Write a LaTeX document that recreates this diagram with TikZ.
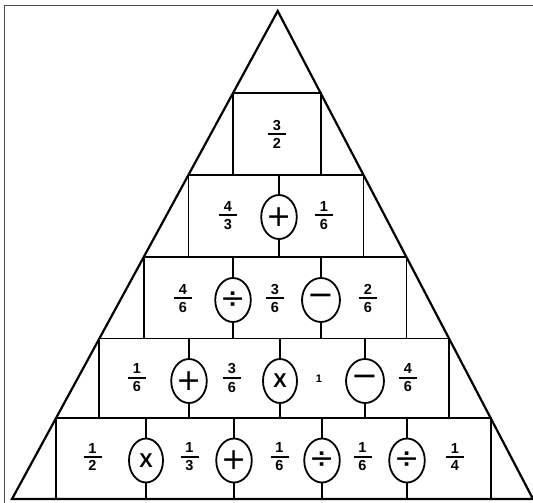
\documentclass[tikz,border=0pt]{standalone}
\usepackage{fontspec}
\newfontfamily\handfont{Liberation Sans}
\newfontfamily\symfont{DejaVu Sans}
\usetikzlibrary{calc,shapes.geometric}
\newcommand\fracfont{\handfont\bfseries\fontsize{14.5}{14.5}\selectfont}
\newcommand\fracbox[2]{\vbox{\offinterlineskip\halign{\hfil##\hfil\cr\fracfont #1\cr\noalign{\kern2.8pt}\rule{18pt}{2pt}\cr\noalign{\kern3pt}\fracfont #2\cr}}}
\newcommand\opplus{{\symfont\fontsize{30}{30}\selectfont +}}
\newcommand\opminus{{\symfont\fontsize{32}{32}\selectfont −}}
\newcommand\opdiv{{\symfont\fontsize{30}{30}\selectfont ÷}}
\newcommand\optimes{{\handfont\bfseries\fontsize{20}{20}\selectfont X}}
\begin{document}
\begin{tikzpicture}[x=1pt,y=-1pt,
  tri/.style={line width=2.2pt,line join=miter},
  boxline/.style={line width=1.8pt},
  opel/.style={draw,line width=1.8pt,fill=white,ellipse,minimum width=34pt,minimum height=44pt,inner sep=0pt},
  fr/.style={inner sep=0pt}]
\useasboundingbox (0,0) rectangle (533,503);
% frame
\draw[black!70,line width=1.3pt] (4.7,503) -- (4.7,5.7) -- (533,5.7);
% triangle
\coordinate (A) at (277.7,11);
\coordinate (BL) at (12,499);
\coordinate (BR) at (533,499);
% box corners on the triangle edges
\foreach \n/\yy in {1/93,2/175,3/257,4/338.5,5/418}{
  \coordinate (L\n) at ($(BL)!{(499-\yy)/488}!(A)$);
  \coordinate (R\n) at ($(BR)!{(499-\yy)/488}!(A)$);
}
\coordinate (L6) at (0,499);
\draw[boxline] (L1) rectangle (R1 |- L2);
\draw[boxline] (L2) rectangle (R2 |- L3);
\draw[boxline] (L3) rectangle (R3 |- L4);
\draw[boxline] (L4) rectangle (R4 |- L5);
\draw[boxline] (L5) rectangle (R5 |- L6);
\draw[tri] (BL) -- (A) -- (BR) -- cycle;
% dividers
\draw[boxline] (279,175) -- (279,257);
\draw[boxline] (233,257) -- (233,338.5) (321,257) -- (321,338.5);
\draw[boxline] (189,338.5) -- (189,418) (280,338.5) -- (280,418) (365,338.5) -- (365,418);
\draw[boxline] (146,418) -- (146,499) (234,418) -- (234,499) (322,418) -- (322,499) (407,418) -- (407,499);
% row 1
\node[fr] (f11) at (277,134.5) {\fracbox{3}{2}};
% row 2
\node[fr] (f21) at (228,215.5) {\fracbox{4}{3}};
\node[opel] (o21) at (279,217) {\opplus};
\node[fr] (f22) at (324,215.5) {\fracbox{1}{6}};
% row 3
\node[fr] (f31) at (183,298.5) {\fracbox{4}{6}};
\node[opel] (o31) at (233,300) {\opdiv};
\node[fr] (f32) at (275,298.5) {\fracbox{3}{6}};
\node[opel] (o32) at (321,300) {\opminus};
\node[fr] (f33) at (368,298.5) {\fracbox{2}{6}};
% row 4
\node[fr] (f41) at (137,378) {\fracbox{1}{6}};
\node[opel] (o41) at (189,381) {\opplus};
\node[fr] (f42) at (232,378) {\fracbox{3}{6}};
\node[opel] (o42) at (280,381) {\optimes};
\node[fr,font=\handfont\bfseries\fontsize{11}{11}\selectfont] (f43) at (319,379) {1};
\node[opel] (o43) at (365,381) {\opminus};
\node[fr] (f44) at (408,378) {\fracbox{4}{6}};
% row 5
\node[fr] (f51) at (92.5,457) {\fracbox{1}{2}};
\node[opel] (o51) at (146,460.5) {\optimes};
\node[fr] (f52) at (189.5,457) {\fracbox{1}{3}};
\node[opel] (o52) at (234,460.5) {\opplus};
\node[fr] (f53) at (279.5,457) {\fracbox{1}{6}};
\node[opel] (o53) at (322,460.5) {\opdiv};
\node[fr] (f54) at (362.5,457) {\fracbox{1}{6}};
\node[opel] (o54) at (407,460.5) {\opdiv};
\node[fr] (f55) at (455,457) {\fracbox{1}{4}};
\end{tikzpicture}
\end{document}
